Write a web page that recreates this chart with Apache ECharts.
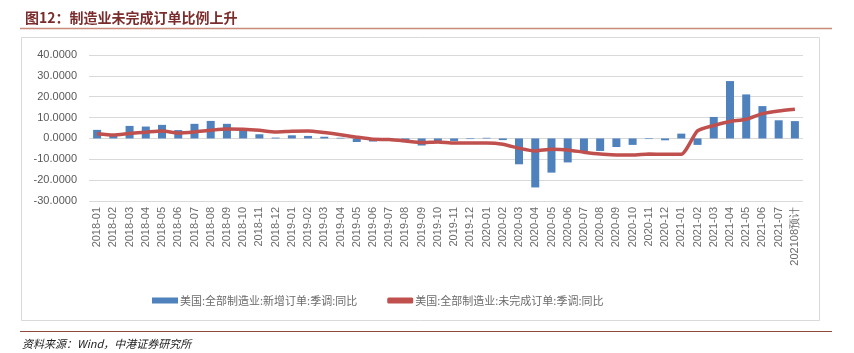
<!DOCTYPE html>
<html>
<head>
    <meta charset="utf-8">
    <title>ECharts</title>
    <script src="https://cdn.jsdelivr.net/npm/echarts@6/dist/echarts.min.js"></script>
    <style>
        body { margin: 0; background: #fff; }
    </style>
</head>
<body>
    <div id="main" style="width: 854px;height:353px;"></div>
    <script type="text/javascript">
        var myChart = echarts.init(document.getElementById('main'));

        // 月份
        var months = [
            '2018-01', '2018-02', '2018-03', '2018-04', '2018-05', '2018-06', '2018-07', '2018-08', '2018-09', '2018-10', '2018-11', '2018-12',
            '2019-01', '2019-02', '2019-03', '2019-04', '2019-05', '2019-06', '2019-07', '2019-08', '2019-09', '2019-10', '2019-11', '2019-12',
            '2020-01', '2020-02', '2020-03', '2020-04', '2020-05', '2020-06', '2020-07', '2020-08', '2020-09', '2020-10', '2020-11', '2020-12',
            '2021-01', '2021-02', '2021-03', '2021-04', '2021-05', '2021-06', '2021-07', '202108预计'
        ];
        // 新增订单 同比
        var newOrders = [
            4.1, 1.2, 6.0, 5.7, 6.5, 4.0, 7.0, 8.4, 7.0, 4.3, 2.0, 0.4,
            1.5, 1.2, 0.8, 0.3, -1.7, -1.5, -0.3, -1.8, -3.4, -1.5, -1.2, -0.3,
            0.3, -0.8, -12.4, -23.5, -16.4, -11.5, -6.8, -6.0, -4.1, -3.1, -0.3, -0.9,
            2.3, -3.1, 10.3, 27.5, 21.1, 15.5, 8.7, 8.3
        ];
        // 未完成订单 同比
        var unfilledOrders = [
            2.2, 1.6, 2.4, 3.0, 3.6, 2.6, 3.1, 3.9, 4.5, 4.4, 3.9, 3.1,
            3.5, 3.6, 2.8, 1.8, 0.6, -0.4, -0.5, -1.2, -2.0, -1.7, -2.2, -2.2,
            -2.2, -2.8, -4.7, -6.0, -5.2, -5.5, -6.6, -7.5, -7.9, -8.0, -7.5, -7.6,
            -7.6, 3.6, 6.2, 8.1, 9.2, 11.9, 13.2, 14.0
        ];
        var yTicks = [-30, 40, 10]; // min, max, interval

        myChart.setOption({
            animation: false,
            title: {
                text: '图12：制造业未完成订单比例上升',
                left: 20,
                top: 6,
                textStyle: {
                    color: '#7b2c2c',
                    fontSize: 14,
                    fontWeight: 'bold',
                    fontFamily: 'Noto Sans CJK SC'
                }
            },
            graphic: [
                { type: 'line', shape: { x1: 20, y1: 28.5, x2: 832, y2: 28.5 }, style: { stroke: '#c98a7a', lineWidth: 1.5 } },
                { type: 'rect', shape: { x: 21.5, y: 37.5, width: 798, height: 283 }, style: { fill: 'none', stroke: '#d9d9d9', lineWidth: 1 } },
                { type: 'line', shape: { x1: 20, y1: 331.5, x2: 832, y2: 331.5 }, style: { stroke: '#8e4a3c', lineWidth: 1 } },
                {
                    type: 'text', left: 22, top: 338,
                    style: { text: '资料来源：Wind，中港证券研究所', fill: '#222', fontSize: 11, fontStyle: 'italic', fontFamily: 'Noto Sans CJK SC' }
                }
            ],
            legend: {
                top: 290,
                left: 147,
                itemGap: 30,
                itemWidth: 26,
                itemHeight: 6,
                textStyle: { color: '#6b6b6b', fontSize: 11, fontFamily: 'Noto Sans CJK SC', padding: [0, 0, 0, -3] },
                data: [
                    { name: '美国:全部制造业:新增订单:季调:同比', icon: 'rect' },
                    { name: '美国:全部制造业:未完成订单:季调:同比', icon: 'roundRect', itemStyle: { color: '#c0504d' } }
                ]
            },
            grid: {
                left: 89,
                right: 51,
                top: 55,
                bottom: 152
            },
            xAxis: {
                type: 'category',
                data: months,
                axisLine: { show: false },
                axisTick: { show: false },
                axisLabel: {
                    interval: 0,
                    rotate: 90,
                    color: '#6b6b6b',
                    fontSize: 11,
                    fontFamily: 'Liberation Sans',
                    margin: 6
                }
            },
            yAxis: {
                type: 'value',
                min: yTicks[0],
                max: yTicks[1],
                interval: yTicks[2],
                axisLine: { show: false },
                axisTick: { show: false },
                axisLabel: {
                    color: '#595959',
                    fontSize: 11,
                    fontFamily: 'Liberation Sans',
                    margin: 12,
                    formatter: function (v) { return v.toFixed(4); }
                },
                splitLine: { lineStyle: { color: '#d9d9d9', width: 1 } }
            },
            series: [
                {
                    name: '美国:全部制造业:新增订单:季调:同比',
                    type: 'bar',
                    data: newOrders,
                    barWidth: 8,
                    itemStyle: { color: '#4f81bd' }
                },
                {
                    name: '美国:全部制造业:未完成订单:季调:同比',
                    type: 'line',
                    data: unfilledOrders,
                    smooth: 0.2,
                    symbol: 'none',
                    lineStyle: { color: '#c0504d', width: 3.5 },
                    itemStyle: { color: '#c0504d' }
                }
            ]
        });
    </script>
</body>
</html>
